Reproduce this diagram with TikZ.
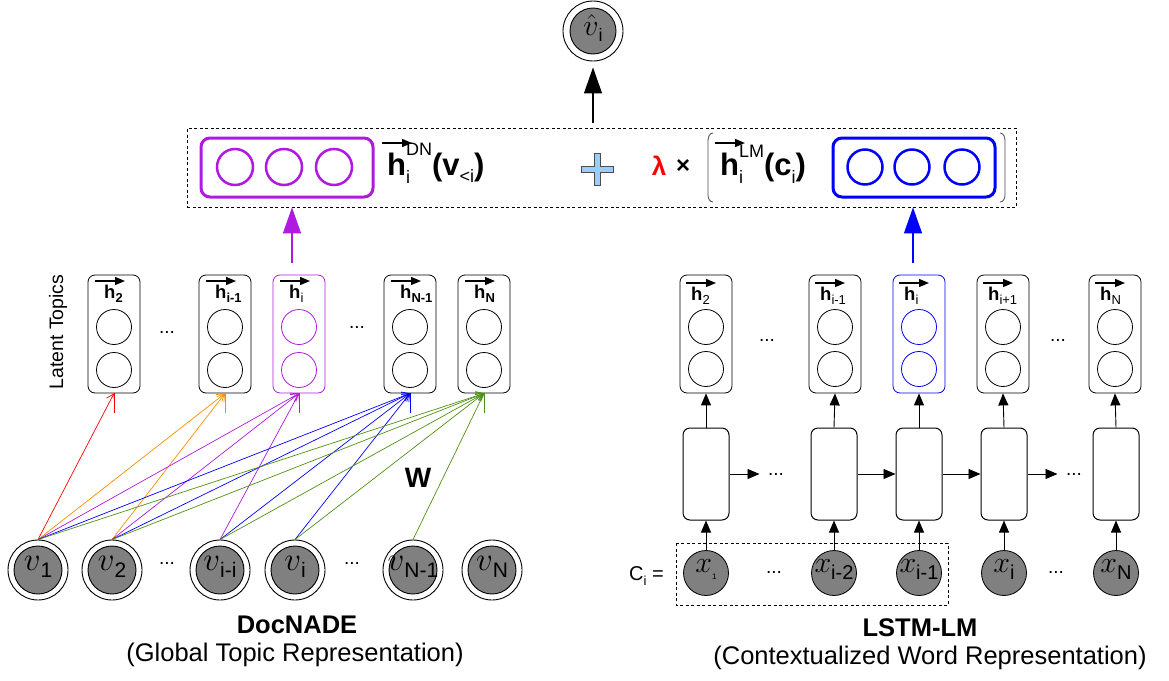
\RequirePackage{fix-cm}
\documentclass[tikz,border=0pt]{standalone}
\usepackage{fontspec}
\setmainfont{Liberation Sans}
\usetikzlibrary{arrows.meta}
\definecolor{pur}{RGB}{175,25,225}
\definecolor{dngreen}{RGB}{80,145,20}
\definecolor{org}{RGB}{255,140,0}
\definecolor{nodegray}{RGB}{128,128,128}
\definecolor{plusblue}{RGB}{153,204,255}
\newcommand{\fs}[1]{\fontsize{#1}{#1}\selectfont}
\begin{document}
\begin{tikzpicture}[x=1pt,y=-1pt,
  hbox/.style={draw, rounded corners=7pt, minimum width=52pt, minimum height=118pt, line width=0.8pt, inner sep=0pt},
  unit/.style={circle, draw, minimum size=35pt, inner sep=0pt, line width=0.8pt},
  cell/.style={draw, rounded corners=7pt, minimum width=46pt, minimum height=92pt, line width=1pt, inner sep=0pt},
  vout/.style={circle, draw, minimum size=60pt, line width=0.9pt, inner sep=0pt},
  vin/.style={circle, draw, fill=nodegray, minimum size=48pt, line width=0.9pt, inner sep=0pt},
  xnode/.style={circle, draw, fill=nodegray, minimum size=45pt, line width=0.8pt, inner sep=0pt},
  warr/.style={line width=0.7pt, -{Straight Barb[length=7pt,width=9pt]}},
  larr/.style={line width=0.9pt, -{Triangle[length=12pt,width=10pt]}},
  bigarr/.style={line width=1.2pt, -{Triangle[length=26pt,width=18pt]}},
  harr/.style={line width=1.3pt, -{Triangle[length=10pt,width=8pt]}},
  dotsn/.style={font=\fs{19}, inner sep=0pt},
  hdr/.style={anchor=base west, inner sep=0pt, font=\fs{18.5}\bfseries},
  lbl/.style={inner sep=0pt},
]
\useasboundingbox (0,0) rectangle (1169,680);

% ---------- output node ----------
\node[vout] (out) at (593,31) {};
\node[vin, minimum size=46pt] (outin) at (593,31) {};
\node[lbl] (outt) at (593,28) {\fs{30}$\hat{v}$\raisebox{-6pt}{\fs{18}i}};

% ---------- combination box ----------
\node[draw, dashed, dash pattern=on 3pt off 2.5pt, line width=0.8pt, minimum width=829pt, minimum height=79pt, inner sep=0pt] (comb) at (601.5,167.5) {};
\node[draw=pur, rounded corners=9pt, line width=3pt, minimum width=172pt, minimum height=59pt, inner sep=0pt] (pbox) at (287,167.5) {};
\foreach \i/\x in {1/235,2/284,3/334}
  \node[circle, draw=pur, line width=2.5pt, minimum size=36pt, inner sep=0pt] (pc\i) at (\x,167) {};
\node[draw=blue, rounded corners=9pt, line width=3pt, minimum width=162pt, minimum height=59pt, inner sep=0pt] (bbox) at (914,167.5) {};
\foreach \i/\x in {1/865,2/912,3/962}
  \node[circle, draw=blue, line width=2.5pt, minimum size=35pt, inner sep=0pt] (bc\i) at (\x,167) {};

\draw[harr, line width=1.5pt] (382,143) -- (412,143);
\node[anchor=base west, inner sep=0pt] (hdn) at (387,175)
  {\fs{31}\bfseries h\rlap{\raisebox{-8pt}{\fs{18}\mdseries i}}\raisebox{20pt}{\fs{18}\mdseries DN}(v\raisebox{-7pt}{\fs{18}\mdseries <i})};
\draw[fill=plusblue, draw=black!70, line width=0.7pt] (594,153) -- (600,153) -- (600,166) -- (613,166) -- (613,172) -- (600,172) -- (600,185) -- (594,185) -- (594,172) -- (581,172) -- (581,166) -- (594,166) -- cycle;
\node[anchor=base, inner sep=0pt, text=red, font=\fs{26}\bfseries] (lam) at (659,175) {λ};
\node[inner sep=0pt, font=\fs{24}\bfseries] (times) at (683,167) {×};
\draw[black!70, line width=0.8pt] (713,133) to[out=180,in=90] (708,141) -- (708,195) to[out=270,in=180] (713,202);
\draw[black!70, line width=0.8pt] (1000,133) to[out=0,in=90] (1005,141) -- (1005,195) to[out=270,in=0] (1000,202);
\draw[harr, line width=1.5pt] (715,143) -- (745,143);
\node[anchor=base west, inner sep=0pt] (hlm) at (720,175)
  {\fs{31}\bfseries h\rlap{\raisebox{-8pt}{\fs{18}\mdseries i}}\raisebox{18pt}{\fs{18}\mdseries LM}(c\raisebox{-8pt}{\fs{18}\mdseries i})};

% ---------- DocNADE hidden layer ----------
\node[font=\fs{19.5}, rotate=90, inner sep=0pt] (lt) at (58,332) {Latent Topics};
\foreach \i/\x/\s in {1/114/2,2/225/i-1,4/410/N-1,5/484/N} {
  \node[hbox] (L\i) at (\x,334) {};
  \node[unit] (L\i a) at (\x,327) {};
  \node[unit] (L\i b) at (\x,370) {};
  \draw[harr] ([shift={(-19,-53)}]L\i.center) -- ++(30,0);
  \node[hdr] (Lh\i) at ([shift={(-10,-36)}]L\i.center) {h\raisebox{-4pt}{\fs{13}\s}};
}
\node[hbox, draw=pur] (L3) at (299,334) {};
\node[unit, draw=pur] (L3a) at (299,327) {};
\node[unit, draw=pur] (L3b) at (299,370) {};
\draw[harr] ([shift={(-19,-53)}]L3.center) -- ++(30,0);
\node[hdr] (Lh3) at ([shift={(-10,-36)}]L3.center) {h\raisebox{-4pt}{\fs{13}\mdseries i}};
\node[dotsn] (ld1) at (167,332) {...};
\node[dotsn] (ld2) at (357,327) {...};

% ---------- DocNADE visible layer ----------
\foreach \i/\x/\s in {1/38/1,2/112/2,3/220/i-i,4/295/i,5/413/N-1,6/492/N} {
  \node[vout] (V\i) at (\x,570) {};
  \node[vin] (V\i i) at (\x,570) {};
  \node[lbl] (V\i t) at (\x,567) {\fs{33}$v$\raisebox{-7pt}{\fs{21}\s}};
}
\node[dotsn] (vd1) at (167,563) {...};
\node[dotsn] (vd2) at (352,563) {...};
\node[font=\fs{28}\bfseries, inner sep=0pt] (W) at (418,478) {W};

% W connections
\draw[warr, red] (V1.north) -- (L1.south);
\foreach \s in {1,2} \draw[warr, org] (V\s.north) -- (L2.south);
\foreach \s in {1,2,3} \draw[warr, pur] (V\s.north) -- (L3.south);
\foreach \s in {1,2,3,4} \draw[warr, blue] (V\s.north) -- (L4.south);
\foreach \s in {1,2,3,4,5} \draw[warr, dngreen] (V\s.north) -- (L5.south);
\draw[red, line width=0.8pt] (L1.south) -- ++(0,20);
\draw[org, line width=0.8pt] (L2.south) -- ++(0,20);
\draw[pur, line width=0.8pt] (L3.south) -- ++(0,20);
\draw[blue, line width=0.8pt] (L4.south) -- ++(0,20);
\draw[dngreen, line width=0.8pt] (L5.south) -- ++(0,20);

% ---------- LSTM-LM ----------
\foreach \i/\x/\s in {1/706/2,2/835/i-1,4/1003/i+1,5/1115/N} {
  \node[hbox] (R\i) at (\x,334) {};
  \node[unit] (R\i a) at (\x,327) {};
  \node[unit] (R\i b) at (\x,369) {};
  \draw[harr] ([shift={(-20,-51)}]R\i.center) -- ++(30,0);
  \node[hdr] (Rh\i) at ([shift={(-15,-34)}]R\i.center) {h\raisebox{-4pt}{\fs{13}\mdseries\s}};
}
\node[hbox, draw=blue] (R3) at (919,334) {};
\node[unit, draw=blue] (R3a) at (919,327) {};
\node[unit, draw=blue] (R3b) at (919,369) {};
\draw[harr] ([shift={(-20,-51)}]R3.center) -- ++(30,0);
\node[hdr] (Rh3) at ([shift={(-15,-34)}]R3.center) {h\raisebox{-4pt}{\fs{13}\mdseries i}};
\node[dotsn] (rd1) at (767,340) {...};
\node[dotsn] (rd2) at (1058,340) {...};

\foreach \i/\x/\s in {1/706/{\fs{8}1},2/834/{\fs{20}i-2},3/919/{\fs{20}i-1},4/1004/{\fs{20}i},5/1116/{\fs{20}N}} {
  \node[cell] (C\i) at (\x,474) {};
  \node[xnode] (X\i) at (\x,573) {};
  \node[lbl] (X\i t) at (\x,570) {\fs{30}$x$\raisebox{-7pt}{\s}};
  \draw[larr] (X\i.north) -- (C\i.south);
  \draw[larr] (C\i.north) -- (R\i.south);
}
\draw[larr] (C1.east) -- ++(30,0);
\draw[larr] (C2.east) -- (C3.west);
\draw[larr] (C3.east) -- (C4.west);
\draw[larr] (C4.east) -- ++(30,0);
\node[dotsn] (cd1) at (776,474) {...};
\node[dotsn] (cd2) at (1074,474) {...};
\node[dotsn] (xd1) at (774,572) {...};
\node[dotsn] (xd2) at (1056,572) {...};
\draw[dashed, dash pattern=on 3pt off 2.5pt, line width=0.9pt] (676,543) rectangle (948,605);
\node[anchor=east, inner sep=0pt, font=\fs{20}] (ci) at (664,576) {C\raisebox{-5pt}{\fs{13}i} =};

% ---------- big arrows ----------
\draw[bigarr, shorten >=6pt] ([yshift=5pt]out.south |- comb.north) -- (out.south);
\draw[bigarr, pur] ([xshift=-7pt, yshift=12pt]L3.north) -- ([xshift=-7pt]L3.north |- comb.south);
\draw[bigarr, blue] ([xshift=-6pt, yshift=12pt]R3.north) -- ([xshift=-6pt]R3.north |- comb.south);

% ---------- captions ----------
\node[font=\fs{25.5}\bfseries, inner sep=0pt] (cap1) at (297,625) {DocNADE};
\node[font=\fs{25.5}, inner sep=0pt] (cap1b) at (295,655) {(Global Topic Representation)};
\node[font=\fs{25.5}\bfseries, inner sep=0pt] (cap2) at (920,628) {LSTM-LM};
\node[font=\fs{25.5}, inner sep=0pt] (cap2b) at (930,658) {(Contextualized Word Representation)};
\end{tikzpicture}
\end{document}
